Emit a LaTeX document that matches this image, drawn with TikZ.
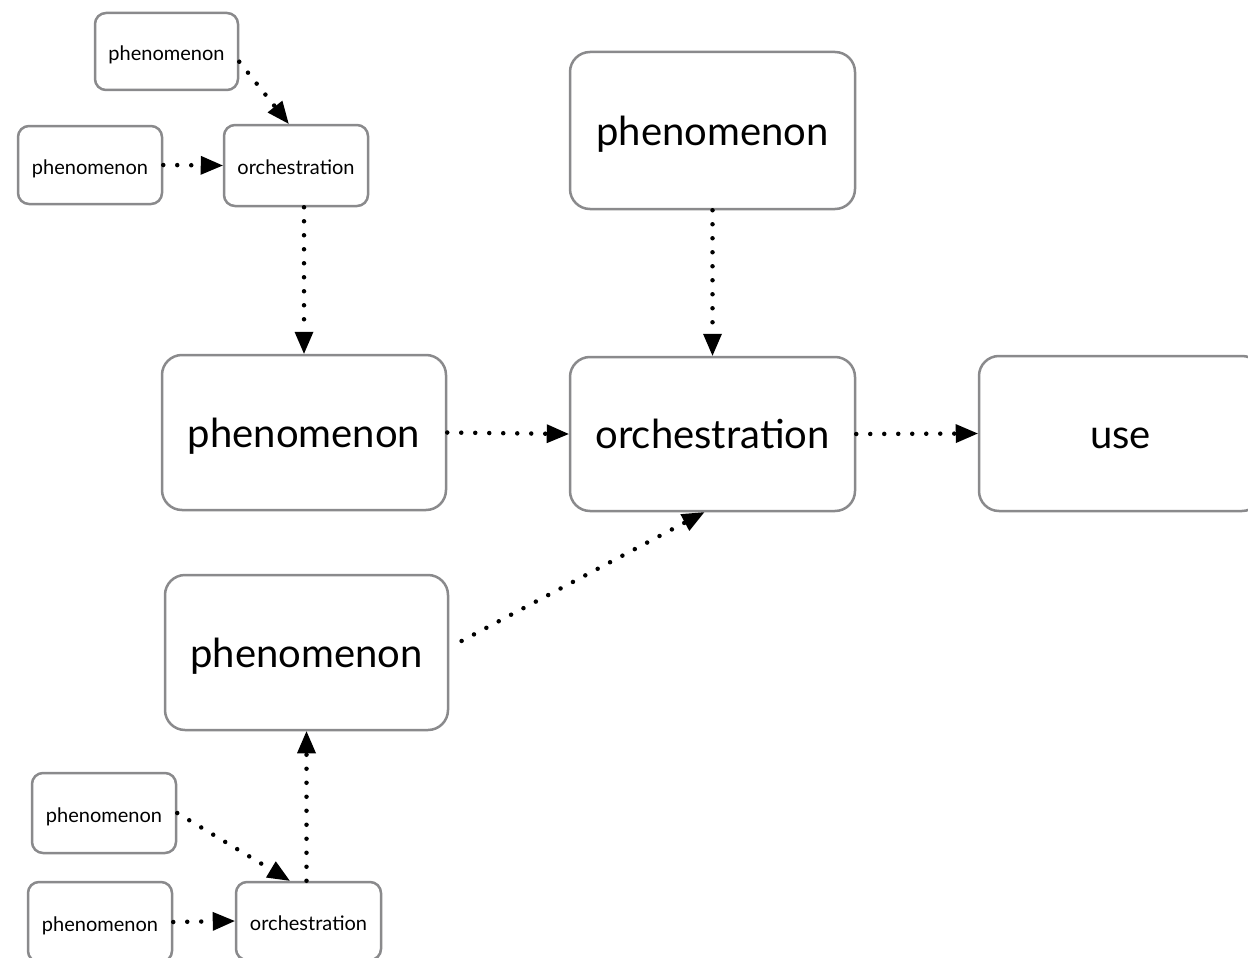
\documentclass[tikz,border=0pt]{standalone}
\usepackage{fontspec}
\setmainfont{Lato}
\usetikzlibrary{arrows.meta,calc}
\begin{document}
\begin{tikzpicture}[x=1pt,y=-1pt,
  box/.style={draw=boxgray,line width=2.5pt,fill=white,rectangle,inner sep=0pt,text=black},
  bigbox/.style={box,rounded corners=20pt,font=\fontsize{40}{44}\selectfont,text height=29pt,text depth=0pt},
  smallbox/.style={box,rounded corners=11pt,font=\fontsize{20}{24}\selectfont,text height=18pt,text depth=0pt},
  flow/.style={line width=4.5pt,line cap=round,dash pattern=on 0pt off 14pt,
    -{Triangle[length=22pt,width=19pt,line width=0pt,round=false]}}]
\definecolor{boxgray}{RGB}{138,138,140}
\useasboundingbox (0,0) rectangle (1248,958);
% small top group
\node[smallbox,minimum width=143pt,minimum height=77pt] (P1) at (166.5,51.5) {phenomenon};
\node[smallbox,minimum width=144pt,minimum height=78pt] (P2) at (90,165) {phenomenon};
\node[smallbox,minimum width=144pt,minimum height=81pt] (O1) at (296,165.5) {orchestration};
% big nodes
\node[bigbox,minimum width=285pt,minimum height=157pt] (PT) at (712.5,130.5) {phenomenon};
\node[bigbox,minimum width=284pt,minimum height=155pt] (PM) at (304,432.5) {phenomenon};
\node[bigbox,minimum width=285pt,minimum height=154pt] (OB) at (712.5,434) {orchestration};
\node[bigbox,minimum width=283pt,minimum height=155pt] (U) at (1120.5,433.5) {use};
\node[bigbox,minimum width=283pt,minimum height=155pt] (PL) at (306.5,652.5) {phenomenon};
% small bottom group
\node[smallbox,minimum width=144pt,minimum height=80pt] (PB1) at (104,813) {phenomenon};
\node[smallbox,minimum width=144pt,minimum height=80pt] (PB2) at (100,922) {phenomenon};
\node[smallbox,minimum width=145pt,minimum height=78pt] (OB2) at (308.5,921) {orchestration};
% connectors
\draw[flow] (P1.-8) -- (O1.100);
\draw[flow] (P2.east) -- (O1.west);
\draw[flow] (PM.north |- O1.south) -- (PM.north);
\draw[flow] (PT.south) -- (OB.north);
\draw[flow] (PM.east) -- (OB.west);
\draw[flow] (OB.east) -- (U.west);
\draw[flow,shorten <=14pt] (PL.2) -- (OB.264);
\draw[flow] (PL.south |- OB2.north) -- (PL.south);
\draw[flow] (PB1.east) -- (OB2.115);
\draw[flow] (PB2.east) -- (OB2.west);
\end{tikzpicture}
\end{document}
